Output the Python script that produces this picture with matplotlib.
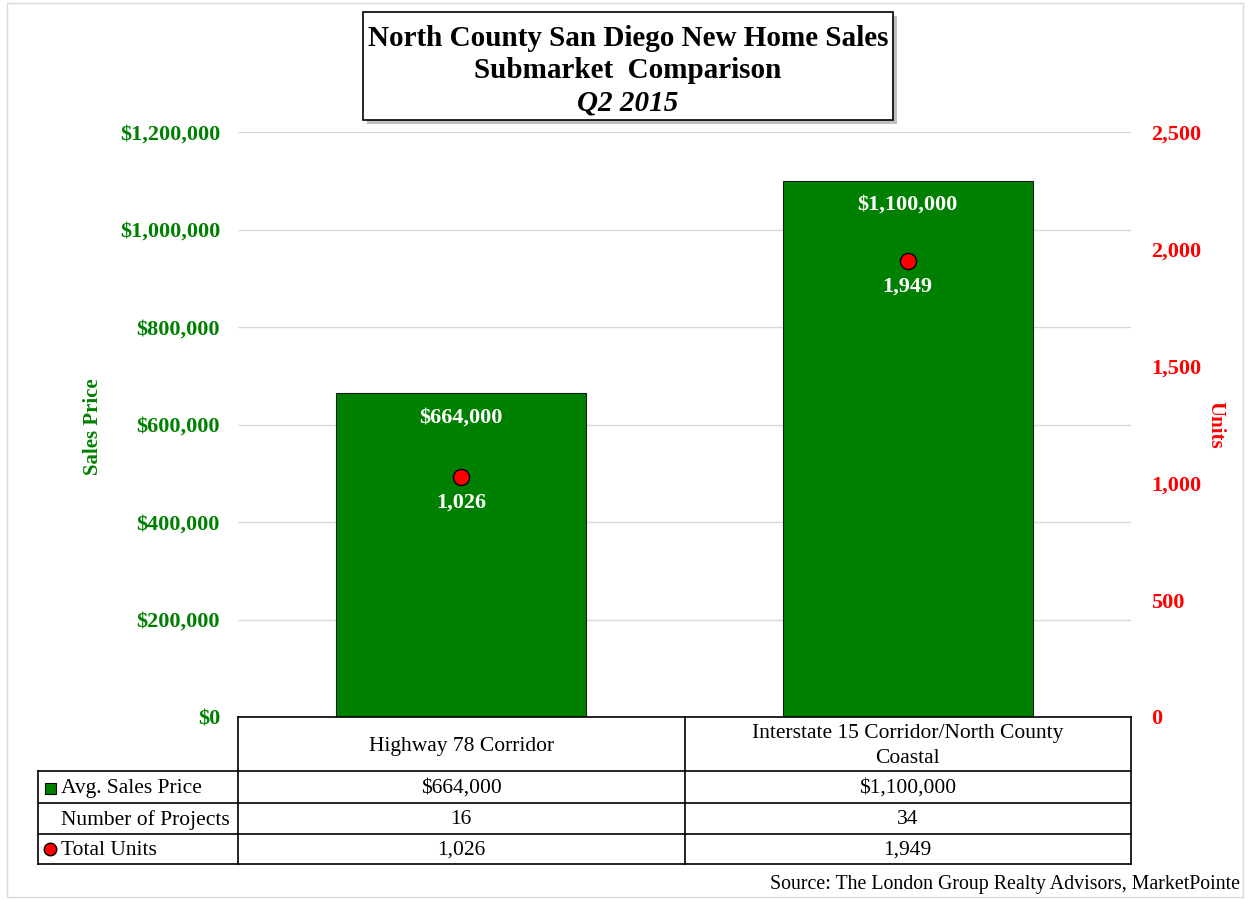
import matplotlib.pyplot as plt
from matplotlib.patches import Rectangle
from matplotlib.lines import Line2D
from matplotlib.ticker import FuncFormatter, MultipleLocator

plt.rcParams["font.family"] = ["Liberation Serif", "DejaVu Serif"]

# ── Data ─────────────────────────────────────────────────────────────────────
categories = ["Highway 78 Corridor", "Interstate 15 Corridor/North County\nCoastal"]
avg_price = [664000, 1100000]
n_projects = [16, 34]
total_units = [1026, 1949]
row_labels = ["Avg. Sales Price", "Number of Projects", "Total Units"]

GREEN = "#008000"
RED = "#ff0000"
W, H = 1250, 900


def fx(px):
    return px / W


def fy(py):
    return 1 - py / H


fig = plt.figure(figsize=(12.5, 9), dpi=100)
fig.patches.append(Rectangle((fx(7), fy(897)), fx(1243) - fx(7), fy(3) - fy(897),
                             transform=fig.transFigure, fill=False,
                             edgecolor="#d9d9d9", lw=1))

ax = fig.add_axes([fx(238), fy(717), fx(1131) - fx(238), fy(132) - fy(717)])
x = list(range(len(categories)))
ax.bar(x, avg_price, width=0.56, color=GREEN, edgecolor="#1a1a1a", lw=0.8, zorder=3)
ax.set_xlim(-0.5, 1.5)
ax.set_ylim(0, 1200000)
ax.yaxis.set_major_locator(MultipleLocator(200000))
ax.yaxis.set_major_formatter(FuncFormatter(lambda v, p: f"${v:,.0f}"))
ax.grid(axis="y", color="#d9d9d9", lw=1, zorder=0)
ax.set_xticks([])
ax.tick_params(axis="y", length=0, pad=13, labelcolor=GREEN, labelsize=16)
for lab in ax.get_yticklabels():
    lab.set_fontweight("bold")
for s in ax.spines.values():
    s.set_visible(False)
ax.set_ylabel("Sales Price", color=GREEN, fontsize=15, fontweight="bold")
ax.yaxis.set_label_coords((103 - 238) / 893, 0.496)

for xi, v in zip(x, avg_price):
    ax.annotate(f"${v:,.0f}", (xi, v), xytext=(0, -24), textcoords="offset pixels",
                ha="center", va="center", color="white", fontsize=16,
                fontweight="bold", zorder=5)

ax2 = ax.twinx()
ax2.set_ylim(0, 2500)
ax2.yaxis.set_major_locator(MultipleLocator(500))
ax2.yaxis.set_major_formatter(FuncFormatter(lambda v, p: f"{v:,.0f}"))
ax2.tick_params(axis="y", length=0, pad=14.5, labelcolor=RED, labelsize=16)
for lab in ax2.get_yticklabels():
    lab.set_fontweight("bold")
for s in ax2.spines.values():
    s.set_visible(False)
ax2.scatter(x, total_units, s=135, color=RED, edgecolor="black", lw=1, zorder=6)
for xi, v in zip(x, total_units):
    ax2.annotate(f"{v:,}", (xi, v), xytext=(0, -26), textcoords="offset pixels",
                 ha="center", va="center", color="white", fontsize=16,
                 fontweight="bold", zorder=7)
ax2.set_ylabel("Units", color=RED, fontsize=15, fontweight="bold", rotation=-90,
               va="center", ha="center")
ax2.yaxis.set_label_coords((1215 - 238) / 893, (717 - 425) / 585)

# ── Data table under the plot ───────────────────────────────────────────────
tl, tc, tr = 238, 684.5, 1131
row_y = [717, 771, 803, 834, 864]
line_kw = dict(transform=fig.transFigure, color="black", lw=1.2)
fig.add_artist(Line2D([fx(tl), fx(tr)], [fy(717), fy(717)], **line_kw))
for yy in row_y[1:]:
    fig.add_artist(Line2D([fx(38), fx(tr)], [fy(yy), fy(yy)], **line_kw))
for xx in (tl, tc, tr):
    fig.add_artist(Line2D([fx(xx), fx(xx)], [fy(717), fy(864)], **line_kw))
fig.add_artist(Line2D([fx(38), fx(38)], [fy(771), fy(864)], **line_kw))

centers = [(tl + tc) / 2, (tc + tr) / 2]
txt_kw = dict(ha="center", va="center", fontsize=15.5, color="black")
for cx, name in zip(centers, categories):
    fig.text(fx(cx), fy(746), name, linespacing=1.4, **txt_kw)
rows = [[f"${v:,.0f}" for v in avg_price],
        [f"{v}" for v in n_projects],
        [f"{v:,}" for v in total_units]]
for i, vals in enumerate(rows):
    cy = (row_y[i + 1] + row_y[i + 2]) / 2 + 1.5
    for cx, t in zip(centers, vals):
        fig.text(fx(cx), fy(cy), t, **txt_kw)
    fig.text(fx(61), fy(cy), row_labels[i], ha="left", va="center", fontsize=15.5)

# legend keys in the row labels
fig.patches.append(Rectangle((fx(45), fy(794)), fx(11) - fx(0), fy(0) - fy(11),
                             transform=fig.transFigure, facecolor=GREEN,
                             edgecolor="black", lw=0.8))
fig.add_artist(Line2D([fx(50)], [fy(849)], marker="o", markersize=9,
                      markerfacecolor=RED, markeredgecolor="black",
                      transform=fig.transFigure))

# ── Title box ────────────────────────────────────────────────────────────────
fig.patches.append(Rectangle((fx(367), fy(124)), fx(893) - fx(363), fy(12) - fy(120),
                             transform=fig.transFigure, facecolor="#bfbfbf",
                             edgecolor="none", zorder=1))
fig.patches.append(Rectangle((fx(363), fy(120)), fx(893) - fx(363), fy(12) - fy(120),
                             transform=fig.transFigure, facecolor="white",
                             edgecolor="black", lw=1.2, zorder=2))
fig.text(fx(628), fy(39), "North County San Diego New Home Sales", ha="center",
         va="center", fontsize=21, fontweight="bold", zorder=3)
fig.text(fx(628), fy(71), "Submarket  Comparison", ha="center", va="center",
         fontsize=21, fontweight="bold", zorder=3)
fig.text(fx(628), fy(103), "Q2 2015", ha="center", va="center", fontsize=21,
         fontweight="bold", style="italic", zorder=3)

fig.text(fx(1240), fy(884), "Source: The London Group Realty Advisors, MarketPointe",
         ha="right", va="center", fontsize=14.3)

fig.savefig("out.png", dpi=100)
